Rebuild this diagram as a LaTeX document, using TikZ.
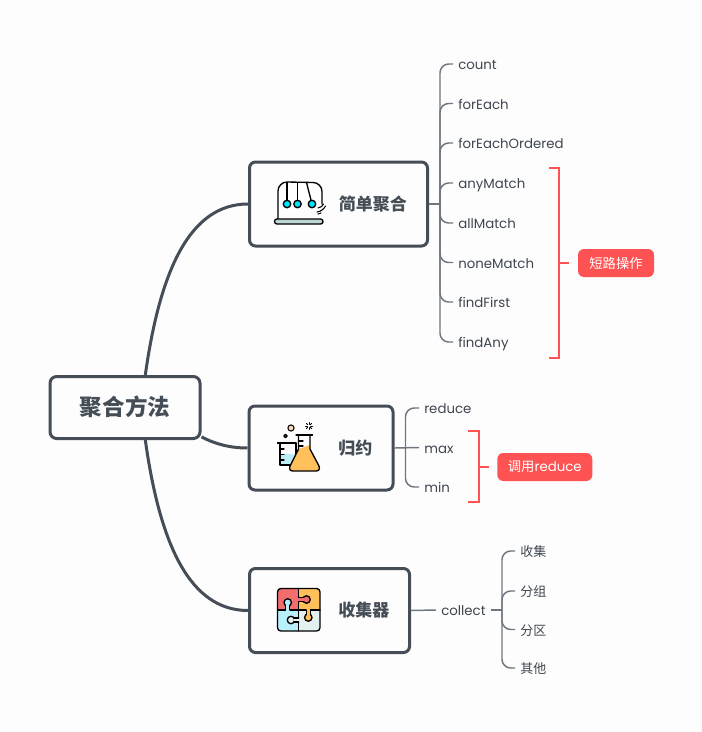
\documentclass[tikz,border=0pt]{standalone}
\usepackage{fontspec}
\setmainfont{Poppins}
\newfontfamily\cjk{Noto Sans CJK SC}
\usetikzlibrary{positioning}
\usetikzlibrary{calc}
\definecolor{inkdark}{HTML}{454D57}
\definecolor{inkthin}{HTML}{6F767F}
\definecolor{inktext}{HTML}{3F464F}
\definecolor{tagred}{HTML}{FF5252}
\definecolor{paper}{HTML}{FDFDFD}
\definecolor{ballcyan}{HTML}{00E5FF}
\definecolor{basegrey}{HTML}{BDD5D5}
\definecolor{watercyan}{HTML}{BCECF5}
\definecolor{flaskorange}{HTML}{FFC05C}
\definecolor{bubblepeach}{HTML}{FBD9B8}
\definecolor{piecered}{HTML}{F26D6D}
\definecolor{piececyan}{HTML}{B8F0FB}
\definecolor{piecepale}{HTML}{E4F1F1}
\begin{document}
\begin{tikzpicture}[x=0.75pt,y=-0.75pt,
    rootbox/.style={draw=inkdark, line width=2.25pt, fill=paper, rounded corners=5pt, text=inkdark, font=\cjk\bfseries\fontsize{16.9}{20}\selectfont, minimum width=112.5pt, minimum height=46.5pt, inner sep=0pt},
    topicbox/.style={draw=inkdark, line width=2.25pt, fill=paper, rounded corners=4.5pt, text=inkdark, font=\cjk\bfseries\fontsize{12.75}{16}\selectfont, minimum height=63pt, inner sep=0pt},
    mainline/.style={draw=inkdark, line width=2.25pt},
    leafline/.style={draw=inkthin, line width=1.1pt, rounded corners=6.5pt},
    leaf/.style={anchor=west, text=inktext, inner xsep=3.75pt, inner ysep=1pt, text height=9.5pt, text depth=1pt, font=\fontsize{10}{12}\selectfont},
    cjkleaf/.style={leaf, font=\cjk\fontsize{9.75}{12}\selectfont},
    redline/.style={draw=tagred, line width=1.5pt},
    tagbox/.style={fill=tagred, text=white, rounded corners=4.5pt, minimum height=21pt, inner sep=0pt, font=\fontsize{10}{12}\selectfont},
    icon/.style={draw=black, line width=1pt, line join=round, line cap=round}]
  \fill[paper] (0,0) rectangle (702,732);
  \useasboundingbox (0,0) rectangle (702,732);

  \node[rootbox] (root) at (125,407.5) {\raisebox{2.6pt}{聚合方法}};
  \node[topicbox, minimum width=133.5pt] (simple) at (338.5,204) {\hspace*{51.5pt}\raisebox{0.5pt}{简单聚合}};
  \node[topicbox, minimum width=108pt] (reduction) at (321,448) {\hspace*{51.5pt}\raisebox{0.75pt}{归约}};
  \node[topicbox, minimum width=120pt] (collector) at (329.5,610.5) {\hspace*{51.5pt}\raisebox{0.5pt}{收集器}};

  \draw[mainline] (root.58) .. controls (160,270) and (190,204) .. (simple.west);
  \draw[mainline] (root.-21) .. controls (215,444) and (230,448) .. (reduction.west);
  \draw[mainline] (root.-58) .. controls (160,545) and (190,610.5) .. (collector.west);

  \coordinate (simplehub) at (440,204);
  \node[leaf] (count) at (453,64) {count};
  \node[leaf] (foreach) at (453,103.5) {forEach};
  \node[leaf] (ordered) at (453,143) {forEachOrdered};
  \node[leaf] (anymatch) at (453,183) {anyMatch};
  \node[leaf] (allmatch) at (453,223) {allMatch};
  \node[leaf] (nonematch) at (453,262.5) {noneMatch};
  \node[leaf] (findfirst) at (453,302) {findFirst};
  \node[leaf] (findany) at (453,342) {findAny};
  \draw[leafline] (simple.east) -- (simplehub);
  \foreach \leafname in {count,foreach,ordered,anymatch,allmatch,nonematch,findfirst,findany}
    \draw[leafline] (simplehub) |- (\leafname.west);

  \coordinate (reducehub) at (405.5,448);
  \node[leaf] (reduce) at (419,408) {reduce};
  \node[leaf] (max) at (419,447.5) {max};
  \node[leaf] (min) at (419,487) {min};
  \draw[leafline] (reduction.east) -- (max.west);
  \draw[leafline] (reducehub) |- (reduce.west);
  \draw[leafline] (reducehub) |- (min.west);

  \node[leaf] (collect) at (436,610) {collect};
  \coordinate (collecthub) at (502,610);
  \node[cjkleaf] (shou) at (515,551) {收集};
  \node[cjkleaf] (group) at (515,591) {分组};
  \node[cjkleaf] (part) at (515,629.5) {分区};
  \node[cjkleaf] (other) at (515,668) {其他};
  \draw[leafline] (collector.east) -- (collect.west);
  \draw[leafline] (collect.east) -- (collecthub);
  \foreach \leafname in {shou,group,part,other}
    \draw[leafline] (collecthub) |- (\leafname.west);

  \node[tagbox, minimum width=57pt] (shorttag) at (616,263) {{\cjk 短路操作}};
  \coordinate (shorttop) at (549,167.5);
  \coordinate (shortbot) at (549,358);
  \coordinate (shorthub) at (559,263);
  \draw[redline] (shorttop) -| (shorthub) |- (shortbot);
  \draw[redline] (shorthub) -- (569,263);

  \node[tagbox, minimum width=71.2pt] (calltag) at (544.8,467) {{\cjk 调用}reduce};
  \coordinate (calltop) at (468,431);
  \coordinate (callbot) at (468,502);
  \coordinate (callhub) at (479,467);
  \draw[redline] (calltop) -| (callhub) |- (callbot);
  \draw[redline] (callhub) -- (488.5,467);

  % cradle
  \draw[icon, fill=white] (278,219) -- (278,191) arc[start angle=180, end angle=90, radius=6.75pt] -- (313,182.5) arc[start angle=90, end angle=0, radius=6.75pt] -- (322,204);
  \draw[icon] (287,182.5) -- (287,204);
  \draw[icon] (297.5,182.5) -- (297.5,204);
  \draw[icon] (306.5,182.5) -- (312,204);
  \draw[icon, fill=ballcyan] (287,204) circle (2.8pt);
  \draw[icon, fill=ballcyan] (297.5,204) circle (2.8pt);
  \draw[icon, fill=ballcyan] (312,204) circle (2.8pt);
  \draw[icon, line width=0.8pt] (318,208) .. controls (321,207.5) and (322.5,206) .. (323.5,204);
  \draw[icon, line width=0.8pt] (317,212) .. controls (321,211.5) and (324,209) .. (325.5,206);
  \draw[icon, line width=0.8pt] (318,214) .. controls (319,213.8) and (320,213.5) .. (321,213);
  \draw[icon, fill=basegrey, rounded corners=1.8pt] (274.5,219) rectangle (323,224);

  % flask
  \fill[watercyan] (280,454) rectangle (296,465);
  \draw[icon] (277.5,443) -- (296,443);
  \draw[icon] (280,443) -- (280,465) -- (296,465) -- (296,443);
  \draw[icon] (280,449) -- (284,449);
  \draw[icon] (280,454.5) -- (284,454.5);
  \draw[icon] (280,460) -- (284,460);
  \fill[white] (298.5,435) -- (298.5,449) -- (290,466) -- (290,471) -- (319,471) -- (319,466) -- (310,449) -- (310,435) -- cycle;
  \fill[flaskorange] (310,445) -- (310,449) -- (319,466) .. controls (320,469) and (319,471) .. (316,471) -- (293,471) .. controls (290,471) and (289,469) .. (290,466) -- (298.5,449) -- cycle;
  \draw[icon] (296,435) -- (312.5,435);
  \draw[icon] (298.5,435) -- (298.5,449) -- (290,466) .. controls (289,469) and (290,471) .. (293,471) -- (316,471) .. controls (319,471) and (320,469) .. (319,466) -- (310,449) -- (310,435);
  \draw[icon] (298.5,441) -- (303,441);
  \draw[icon] (298.5,446) -- (303,446);
  \draw[icon, line width=0.8pt, fill=bubblepeach] (291,428) circle (2.3pt);
  \draw[icon] (285.5,436) circle (1.2pt);
  \draw[icon, line width=0.6pt] (305.5,426) -- (307.5,426);
  \draw[icon, line width=0.6pt] (310.5,426) -- (312.5,426);
  \draw[icon, line width=0.6pt] (309,422.5) -- (309,424.5);
  \draw[icon, line width=0.6pt] (309,427.5) -- (309,429.5);
  \draw[icon, line width=0.6pt] (306.5,423.5) -- (307.7,424.7);
  \draw[icon, line width=0.6pt] (311.5,428.5) -- (310.3,427.3);
  \draw[icon, line width=0.6pt] (311.5,423.5) -- (310.3,424.7);
  \draw[icon, line width=0.6pt] (306.5,428.5) -- (307.7,427.3);

  % puzzle
  \begin{scope}
    \clip[rounded corners=2.5pt] (277.5,588.5) rectangle (320,631);
    \fill[piecered] (277.5,588.5) rectangle (298.7,610);
    \fill[flaskorange] (298.7,588.5) rectangle (320,610);
    \fill[piececyan] (277.5,610) rectangle (298.7,631);
    \fill[piecepale] (298.7,610) rectangle (320,631);
  \end{scope}
  \draw[icon] (298.7,588.5) -- (298.7,631);
  \draw[icon] (277.5,610) -- (320,610);
  \draw[icon, fill=piecered] (306.5,599.5) circle (2.8pt);
  \fill[piecered] (296,597.5) rectangle (304,601.5);
  \draw[icon] (298.7,597.5) -- (303.5,597.5);
  \draw[icon] (298.7,601.5) -- (303.5,601.5);
  \draw[icon, fill=piececyan] (287.7,602.5) circle (2.8pt);
  \fill[piececyan] (285.7,605) rectangle (289.7,612.5);
  \draw[icon] (285.7,605.5) -- (285.7,610);
  \draw[icon] (289.7,605.5) -- (289.7,610);
  \draw[icon, fill=flaskorange] (308.3,617.5) circle (2.8pt);
  \fill[flaskorange] (306.3,607.5) rectangle (310.3,615);
  \draw[icon] (306.3,610) -- (306.3,614.5);
  \draw[icon] (310.3,610) -- (310.3,614.5);
  \draw[icon, fill=piecepale] (291,620) circle (2.8pt);
  \fill[piecepale] (293.5,618) rectangle (301,622);
  \draw[icon] (294,618) -- (298.7,618);
  \draw[icon] (294,622) -- (298.7,622);
  \draw[icon, rounded corners=2.5pt] (277.5,588.5) rectangle (320,631);
\end{tikzpicture}
\end{document}
